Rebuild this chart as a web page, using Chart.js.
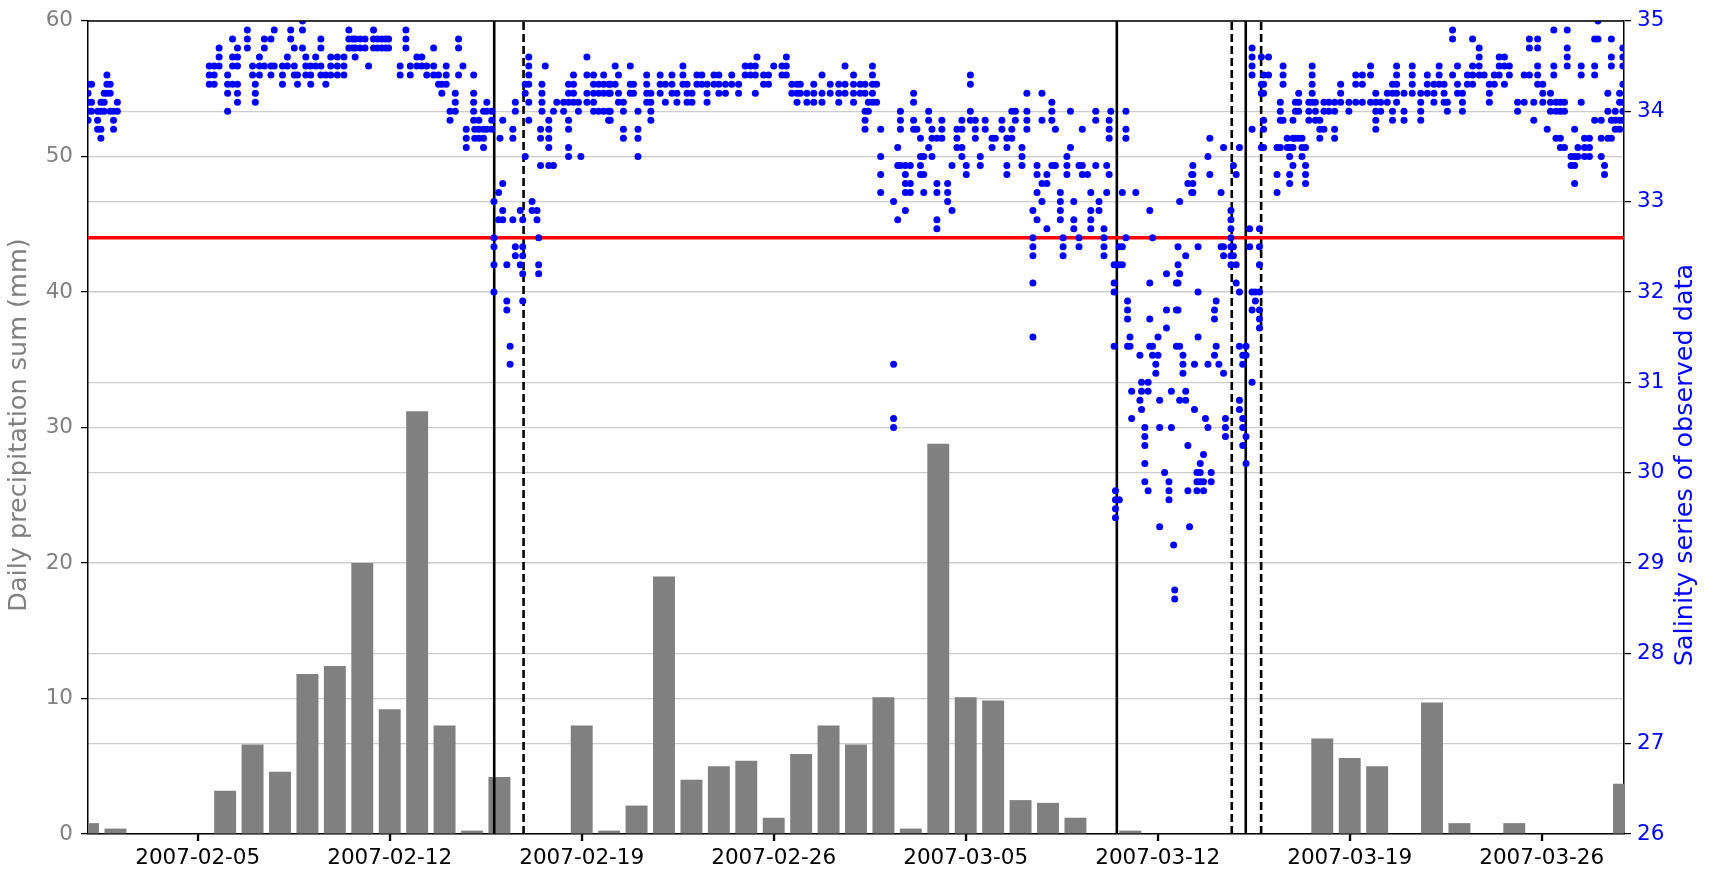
<!DOCTYPE html>
<html>
<head>
<meta charset="utf-8">
<title>Precipitation and salinity</title>
<script src="https://cdn.jsdelivr.net/npm/chart.js@4.4.1/dist/chart.umd.min.js"></script>
<style>
    html, body { margin: 0; padding: 0; background: #fff; }
    #wrap { width: 1717px; height: 869px; position: relative; }
</style>
</head>
<body>
<div id="wrap"><canvas id="salinityChart"></canvas></div>
<script>
// Time axis: days counted from 2007-02-01 00:00
// Daily precipitation sum (mm), one value per day from 2007-02-01 to 2007-03-29
const precipMm = [
    0.8, 0.4, 0, 0, 0, 3.2, 6.6, 4.6, 11.8, 12.4,      // 02-01 .. 02-10
    20.0, 9.2, 31.2, 8.0, 0.25, 4.2, 0, 0, 8.0, 0.25,  // 02-11 .. 02-20
    2.1, 19.0, 4.0, 5.0, 5.4, 1.2, 5.9, 8.0,           // 02-21 .. 02-28
    6.6, 10.1, 0.4, 28.8, 10.1, 9.85, 2.5, 2.3, 1.2, 0, // 03-01 .. 03-10
    0.25, 0, 0, 0, 0, 0, 0, 7.05, 5.6, 5.0,            // 03-11 .. 03-20
    0, 9.7, 0.8, 0, 0.8, 0, 0, 0, 3.7                  // 03-21 .. 03-29
];

const tickDays = [4, 11, 18, 25, 32, 39, 46, 53];
const tickLabels = ['2007-02-05', '2007-02-12', '2007-02-19', '2007-02-26',
                    '2007-03-05', '2007-03-12', '2007-03-19', '2007-03-26'];

const salinityThreshold = 32.6;

// event markers (days since 2007-02-01)
const eventSolid = [14.81, 37.51, 42.21];
const eventDashed = [15.88, 41.70, 42.77];

// observed salinity: [day, values seen at that time...]
const salinityCols = [
    [0.00, 34.3, 34.2, 34.1, 34.0, 33.9],
    [0.13, 34.3, 34.1, 34.0],
    [0.35, 34.0, 33.9, 33.8],
    [0.47, 34.1, 34.0, 33.8, 33.7],
    [0.59, 34.2, 34.1, 34.0],
    [0.69, 34.4, 34.3, 34.2],
    [0.81, 34.3, 34.2, 34.0],
    [0.93, 34.0, 33.9, 33.8],
    [1.07, 34.1, 34.0],
    [4.42, 34.5, 34.4, 34.3],
    [4.60, 34.5, 34.4, 34.3],
    [4.78, 34.7, 34.6, 34.5],
    [5.09, 34.4, 34.3, 34.2, 34.0],
    [5.27, 34.8, 34.6, 34.5, 34.3],
    [5.45, 34.7, 34.6, 34.5, 34.3, 34.2, 34.1],
    [5.81, 34.9, 34.8, 34.7],
    [6.00, 34.5, 34.4],
    [6.10, 34.3, 34.2, 34.1],
    [6.25, 34.6, 34.5, 34.4],
    [6.43, 34.8, 34.7, 34.5],
    [6.67, 34.8, 34.5, 34.4],
    [6.79, 34.9, 34.5],
    [7.09, 34.5, 34.4, 34.3],
    [7.27, 34.6, 34.5],
    [7.39, 34.9, 34.8],
    [7.52, 34.7, 34.5, 34.4],
    [7.64, 34.4, 34.3],
    [7.82, 35.0, 34.9, 34.7],
    [7.94, 34.6, 34.5, 34.4],
    [8.12, 34.5, 34.4, 34.3],
    [8.30, 34.6, 34.5],
    [8.49, 34.8, 34.7, 34.5, 34.4],
    [8.67, 34.4, 34.3],
    [8.85, 34.6, 34.5, 34.4],
    [9.09, 34.6, 34.5, 34.4],
    [9.33, 34.6, 34.5, 34.4],
    [9.51, 34.9, 34.8, 34.7],
    [9.64, 34.8, 34.7],
    [9.74, 34.8, 34.7, 34.6],
    [9.92, 34.8, 34.7],
    [10.10, 34.8, 34.7],
    [10.23, 34.5],
    [10.41, 34.9, 34.8, 34.7],
    [10.55, 34.8, 34.7],
    [10.71, 34.8, 34.7],
    [10.85, 34.8, 34.7],
    [10.96, 34.8, 34.7],
    [11.38, 34.5, 34.4],
    [11.59, 34.9, 34.8, 34.7],
    [11.75, 34.5, 34.4],
    [11.99, 34.6, 34.5],
    [12.17, 34.6, 34.5],
    [12.35, 34.5, 34.4],
    [12.60, 34.7, 34.5, 34.4],
    [12.78, 34.4, 34.3],
    [12.90, 34.3, 34.2],
    [13.06, 34.5, 34.4, 34.3],
    [13.20, 34.0, 33.9],
    [13.39, 34.2, 34.1, 34.0],
    [13.51, 34.8, 34.7, 34.4],
    [13.67, 34.5],
    [13.79, 33.8, 33.7, 33.6],
    [14.06, 34.4, 34.2, 34.1, 34.0, 33.9],
    [14.10, 33.8, 33.7],
    [14.25, 33.9, 33.8, 33.7],
    [14.42, 34.0, 33.8, 33.7, 33.6],
    [14.54, 34.1, 34.0, 33.8],
    [14.72, 34.0, 33.9, 33.8],
    [14.80, 33.0, 32.6, 32.5, 32.3, 32.0],
    [14.97, 33.1, 32.8],
    [15.02, 33.7],
    [15.12, 33.9, 33.2, 32.9, 32.8],
    [15.27, 32.3, 31.9, 31.8],
    [15.39, 31.4, 31.2],
    [15.49, 33.8, 33.7, 32.8],
    [15.58, 34.1, 34.0, 32.5, 32.4],
    [15.76, 32.9, 32.3],
    [15.85, 32.8, 32.5, 32.4, 32.2, 31.9],
    [15.94, 34.3, 34.2, 33.5],
    [16.07, 34.6, 34.5, 34.4, 34.3, 34.1, 33.9],
    [16.19, 33.0, 32.9],
    [16.37, 32.9, 32.8],
    [16.43, 32.6, 32.3, 32.2],
    [16.50, 33.8, 33.7, 33.4],
    [16.55, 34.3, 34.2, 34.1, 34.0],
    [16.67, 34.5],
    [16.80, 33.9, 33.8, 33.7, 33.6, 33.4],
    [16.97, 34.0, 33.4],
    [17.09, 34.1],
    [17.34, 34.1, 34.0],
    [17.52, 34.3, 34.2, 34.1, 33.9, 33.8, 33.6, 33.5],
    [17.70, 34.4, 34.3, 34.2, 34.1],
    [17.88, 34.1, 34.0],
    [17.97, 33.5],
    [18.19, 34.6, 34.4, 34.2, 34.1],
    [18.43, 34.4, 34.3, 34.2, 34.1, 34.0],
    [18.62, 34.3, 34.2, 34.0],
    [18.80, 34.4, 34.3, 34.2, 34.0],
    [18.98, 34.3, 34.2, 34.0, 33.9],
    [19.04, 34.3, 34.2, 34.0, 33.9],
    [19.22, 34.5, 34.3],
    [19.34, 34.4, 34.2, 34.1],
    [19.52, 34.1, 34.0, 33.8, 33.7],
    [19.77, 34.5, 34.3, 34.2],
    [19.89, 34.3, 34.2],
    [20.05, 34.0, 33.8, 33.7, 33.5],
    [20.37, 34.4, 34.3, 34.2, 34.1],
    [20.52, 34.2, 34.1, 34.0, 33.9],
    [20.86, 34.4, 34.3, 34.2],
    [21.05, 34.3, 34.1],
    [21.29, 34.4, 34.3, 34.2],
    [21.47, 34.2, 34.1],
    [21.69, 34.5, 34.4, 34.3],
    [21.84, 34.3, 34.2, 34.1],
    [22.02, 34.2, 34.1],
    [22.20, 34.4, 34.3],
    [22.38, 34.4, 34.3],
    [22.57, 34.3, 34.2, 34.1],
    [22.82, 34.4, 34.3],
    [23.00, 34.4, 34.3, 34.2],
    [23.24, 34.3, 34.2],
    [23.47, 34.4, 34.3],
    [23.72, 34.3, 34.2],
    [23.96, 34.5, 34.4],
    [24.15, 34.5, 34.4],
    [24.33, 34.5, 34.4, 34.2],
    [24.39, 34.6],
    [24.63, 34.4, 34.3],
    [24.81, 34.4, 34.3],
    [25.00, 34.5],
    [25.30, 34.5, 34.4],
    [25.46, 34.6, 34.5, 34.4],
    [25.66, 34.3, 34.2],
    [25.85, 34.3, 34.2, 34.1],
    [25.97, 34.3, 34.2],
    [26.21, 34.2, 34.1],
    [26.46, 34.3, 34.2, 34.1],
    [26.76, 34.4, 34.2, 34.1],
    [27.06, 34.3, 34.2],
    [27.37, 34.3, 34.2, 34.1],
    [27.60, 34.5, 34.3, 34.2],
    [27.91, 34.4, 34.3, 34.2, 34.1],
    [28.15, 34.3, 34.2],
    [28.33, 34.3, 34.2, 34.0, 33.9, 33.8],
    [28.45, 34.1, 34.0],
    [28.60, 34.5, 34.4, 34.3, 34.2, 34.1],
    [28.75, 34.3, 34.1],
    [28.90, 33.8, 33.5, 33.3, 33.1],
    [29.37, 33.0, 31.2, 30.6, 30.5],
    [29.52, 33.6, 33.4, 32.8],
    [29.62, 34.0, 33.9, 33.8, 33.4],
    [29.80, 33.4, 33.3, 33.2, 33.1, 32.9],
    [29.98, 33.4, 33.2, 33.1],
    [30.10, 34.2, 34.1, 33.9, 33.8],
    [30.22, 33.8],
    [30.35, 33.7, 33.5, 33.4, 33.3],
    [30.47, 33.5, 33.3, 33.1],
    [30.65, 34.0, 33.9, 33.6],
    [30.77, 33.8, 33.7, 33.5],
    [30.95, 33.7, 33.2, 33.1, 32.8, 32.7],
    [31.13, 33.9, 33.8, 33.7],
    [31.34, 33.2, 33.1, 33.0],
    [31.50, 33.4, 32.9],
    [31.68, 33.8, 33.7, 33.6],
    [31.86, 33.9, 33.8, 33.6, 33.5],
    [32.02, 33.4, 33.3],
    [32.17, 34.4, 34.3, 34.0, 33.9],
    [32.35, 33.9, 33.8, 33.7],
    [32.53, 33.5, 33.4],
    [32.71, 33.9, 33.8],
    [32.96, 33.7, 33.6],
    [33.08, 33.7],
    [33.32, 33.9, 33.8],
    [33.50, 33.7, 33.6, 33.4, 33.3],
    [33.68, 34.0, 33.8, 33.7],
    [33.81, 34.0, 33.9],
    [34.05, 33.6, 33.5, 33.4],
    [34.23, 34.2, 34.0, 33.9, 33.8],
    [34.45, 32.9, 32.6, 32.5, 32.4, 32.1, 31.5],
    [34.60, 33.4, 33.3, 33.1, 32.8],
    [34.78, 34.2, 33.9, 33.2, 33.0],
    [34.96, 33.3, 33.2, 32.7],
    [35.14, 34.1, 34.0, 33.9, 33.4],
    [35.27, 33.8, 33.4],
    [35.45, 33.1, 33.0, 32.9, 32.8],
    [35.55, 32.6, 32.5, 32.4],
    [35.69, 33.5, 33.4, 33.3],
    [35.82, 34.0, 33.6],
    [35.94, 33.0, 32.8, 32.7],
    [36.13, 33.4, 32.6, 32.5],
    [36.25, 33.8, 33.4, 33.3],
    [36.44, 33.3],
    [36.56, 33.1, 32.9, 32.8, 32.7],
    [36.74, 34.0, 33.9, 33.4],
    [36.86, 33.0, 32.9],
    [37.04, 32.7, 32.6, 32.5, 32.4],
    [37.14, 33.4, 33.1],
    [37.23, 33.9, 33.8, 33.7, 33.3],
    [37.29, 34.0],
    [37.41, 32.3, 32.1, 32.0, 31.4],
    [37.46, 29.8, 29.7, 29.6, 29.5],
    [37.60, 32.5, 32.3, 29.7],
    [37.71, 33.1, 32.5, 32.3],
    [37.84, 34.0, 33.8, 33.7, 32.6],
    [37.90, 31.9, 31.8, 31.7, 31.4],
    [37.99, 31.5, 31.4],
    [38.05, 30.9, 30.6],
    [38.20, 33.1],
    [38.35, 31.3, 30.8],
    [38.41, 31.0, 30.9, 30.7],
    [38.53, 30.5, 30.4, 30.3, 30.1, 29.9],
    [38.65, 31.0, 30.9, 29.8],
    [38.71, 32.9, 32.1, 31.7, 31.4],
    [38.81, 32.6, 31.4, 31.3],
    [38.93, 31.2, 31.1],
    [39.01, 31.5, 31.3],
    [39.07, 30.8, 30.5, 29.4],
    [39.25, 30.0],
    [39.32, 32.2, 31.8, 31.6],
    [39.41, 29.9, 29.8, 29.7],
    [39.50, 30.9, 30.5],
    [39.58, 29.2],
    [39.62, 28.7, 28.6],
    [39.68, 32.1, 31.8, 31.4],
    [39.74, 32.5, 32.3, 32.1, 31.8],
    [39.80, 33.0, 32.2, 31.4, 30.8],
    [39.92, 31.3, 31.2, 31.1],
    [40.02, 32.4, 30.9, 30.8],
    [40.10, 33.2, 30.3, 29.8],
    [40.16, 29.4],
    [40.24, 33.3, 33.1],
    [40.28, 33.4, 33.3, 33.2, 33.1],
    [40.34, 31.2, 30.7],
    [40.43, 30.0, 29.9, 29.8],
    [40.47, 32.5, 32.0, 31.5],
    [40.55, 30.1, 30.0, 29.9],
    [40.67, 30.2, 29.9, 29.8],
    [40.74, 30.6],
    [40.83, 33.5, 31.2, 30.5],
    [40.90, 33.7, 33.3],
    [40.95, 30.0, 29.9],
    [41.07, 31.8, 31.7, 31.3],
    [41.13, 31.9, 31.4],
    [41.23, 31.2],
    [41.31, 33.1, 32.5],
    [41.40, 33.6, 32.5, 32.4, 31.1],
    [41.47, 30.6, 30.5, 30.4],
    [41.67, 32.9, 32.8, 32.7, 32.6, 32.5, 32.4, 32.3],
    [41.76, 33.4, 32.5, 32.4],
    [41.86, 33.3, 32.3, 32.1],
    [41.98, 33.6, 32.0, 31.4, 30.8, 30.7],
    [42.10, 31.3, 31.2, 30.6, 30.5, 30.3],
    [42.22, 31.4, 31.3, 30.4, 30.1],
    [42.35, 32.7, 32.5],
    [42.44, 34.7, 34.6, 34.5, 34.4, 33.8, 32.0, 31.8, 31.0],
    [42.56, 32.0, 31.9],
    [42.71, 32.7, 32.5, 32.3, 32.0, 31.8, 31.7, 31.6],
    [42.78, 34.6, 34.3, 34.2, 33.6],
    [42.86, 34.4, 34.3, 34.2, 33.9, 33.8, 33.6],
    [43.04, 34.6, 34.4],
    [43.35, 33.6, 33.3, 33.1],
    [43.47, 34.1, 34.0, 33.9, 33.6],
    [43.57, 34.5, 34.4, 34.3, 33.9],
    [43.72, 33.7, 33.6],
    [43.81, 33.6, 33.5, 33.3, 33.2],
    [43.93, 33.9, 33.7, 33.6, 33.4],
    [44.02, 34.1, 34.0, 33.7],
    [44.14, 34.2, 34.1, 34.0, 33.7],
    [44.26, 33.7, 33.6, 33.5],
    [44.39, 33.6, 33.4, 33.3, 33.2],
    [44.51, 34.1, 34.0, 33.9],
    [44.63, 34.5, 34.4, 34.3, 34.2, 34.1],
    [44.75, 34.1, 34.0, 33.9],
    [44.91, 33.9, 33.8, 33.7],
    [45.06, 34.1, 34.0, 33.8],
    [45.24, 34.1, 34.0],
    [45.45, 34.1, 34.0, 33.8, 33.7],
    [45.67, 34.3, 34.2, 34.1],
    [45.97, 34.1, 34.0],
    [46.22, 34.4, 34.3, 34.1],
    [46.46, 34.4, 34.3, 34.1],
    [46.76, 34.5, 34.4, 34.1],
    [46.95, 34.2, 34.1, 34.0, 33.9, 33.8],
    [47.13, 34.1, 34.0],
    [47.37, 34.2, 34.1],
    [47.56, 34.3, 34.2, 34.0, 33.9],
    [47.71, 34.5, 34.4, 34.3, 34.2, 34.1],
    [47.98, 34.2, 34.0, 33.9],
    [48.28, 34.5, 34.4, 34.3, 34.2],
    [48.59, 34.2, 34.1, 34.0, 33.9],
    [48.83, 34.4, 34.3, 34.2],
    [49.07, 34.3, 34.2, 34.1],
    [49.26, 34.5, 34.4, 34.3],
    [49.44, 34.3, 34.2, 34.1],
    [49.56, 34.1, 34.0],
    [49.75, 34.9, 34.8, 34.4],
    [49.93, 34.5, 34.3, 34.2],
    [50.11, 34.2, 34.1, 34.0],
    [50.29, 34.4, 34.3],
    [50.48, 34.8, 34.5, 34.4, 34.3],
    [50.72, 34.7, 34.6, 34.5, 34.4],
    [50.90, 34.4],
    [51.09, 34.3, 34.2, 34.1],
    [51.27, 34.4, 34.3],
    [51.45, 34.6, 34.5, 34.4],
    [51.64, 34.6, 34.5, 34.3],
    [51.82, 34.5, 34.4],
    [52.12, 34.1, 34.0],
    [52.36, 34.4, 34.1],
    [52.55, 34.8, 34.7, 34.4],
    [52.71, 34.1, 33.9],
    [52.85, 34.8, 34.7, 34.5, 34.4, 34.3],
    [53.04, 34.3, 34.2, 34.1],
    [53.20, 33.8],
    [53.32, 34.2, 34.1, 34.0],
    [53.44, 34.9, 34.5, 34.4],
    [53.52, 34.1, 34.0, 33.7],
    [53.68, 34.1, 34.0, 33.7, 33.6],
    [53.83, 34.1, 34.0, 33.6],
    [53.93, 34.9, 34.7, 34.6, 34.5],
    [54.07, 33.5, 33.4],
    [54.20, 33.8, 33.5, 33.4, 33.2],
    [54.32, 33.6, 33.5],
    [54.44, 34.5, 34.4, 34.1],
    [54.56, 33.7, 33.6, 33.5],
    [54.74, 33.7, 33.6, 33.5],
    [54.93, 34.8, 34.5, 34.4, 33.9],
    [55.05, 35.0, 34.8],
    [55.17, 33.9, 33.7, 33.5],
    [55.29, 33.4, 33.3],
    [55.41, 34.2, 34.0, 33.7],
    [55.54, 34.8, 34.6, 34.5, 33.9, 33.7],
    [55.68, 34.0, 33.9, 33.8],
    [55.84, 34.2, 34.1, 33.9, 33.8],
    [55.96, 34.7, 34.6, 34.5, 34.3, 34.1, 34.0, 33.9]
];

// build chart data
const barData = precipMm.map((v, i) => ({ x: i, y: v }));
const salinityPoints = [];
salinityCols.forEach(col => {
    for (let k = 1; k < col.length; k++) {
        salinityPoints.push({ x: col[0], y: col[k] });
    }
});
const lastDay = precipMm.length - 1;

const eventSets = [];
eventSolid.forEach(d => eventSets.push({
    type: 'line', data: [{ x: d, y: 0 }, { x: d, y: 60 }], yAxisID: 'y',
    borderColor: '#000', borderWidth: 2.6, pointRadius: 0, order: 3
}));
eventDashed.forEach(d => eventSets.push({
    type: 'line', data: [{ x: d, y: 0 }, { x: d, y: 60 }], yAxisID: 'y',
    borderColor: '#000', borderWidth: 2.6, borderDash: [8, 4], pointRadius: 0, order: 3
}));

const tickFont = { family: 'DejaVu Sans', size: 21.5 };
const titleFont = '25.5px "DejaVu Sans"';

// top spine, x tick marks and both axis titles (right one reads bottom-to-top like the left)
const framePlugin = {
    id: 'framePlugin',
    afterDraw: (chart) => {
        const ctx = chart.ctx;
        const area = chart.chartArea;
        const xScale = chart.scales.x;
        ctx.save();
        ctx.strokeStyle = '#000';
        ctx.lineWidth = 1.5;
        ctx.beginPath();
        ctx.moveTo(area.left, area.top);
        ctx.lineTo(area.right, area.top);
        ctx.stroke();

        ctx.lineWidth = 1.4;
        tickDays.forEach(d => {
            const px = Math.round(xScale.getPixelForValue(d)) + 0.5;
            ctx.beginPath();
            ctx.moveTo(px, area.bottom);
            ctx.lineTo(px, area.bottom + 7);
            ctx.stroke();
        });

        ctx.font = titleFont;
        ctx.textAlign = 'center';
        ctx.textBaseline = 'middle';

        ctx.save();
        ctx.translate(19.5, 425);
        ctx.rotate(-Math.PI / 2);
        ctx.fillStyle = '#808080';
        ctx.fillText('Daily precipitation sum (mm)', 0, 0);
        ctx.restore();

        ctx.save();
        ctx.translate(1685, 465);
        ctx.rotate(-Math.PI / 2);
        ctx.fillStyle = '#0000ff';
        ctx.fillText('Salinity series of observed data', 0, 0);
        ctx.restore();

        ctx.restore();
    }
};

var ctx = document.getElementById('salinityChart').getContext('2d');
var salinityChart = new Chart(ctx, {
    type: 'scatter',
    data: {
        datasets: [
            {
                type: 'scatter',
                data: salinityPoints,
                yAxisID: 'y2',
                backgroundColor: '#0000ff',
                borderWidth: 0,
                pointRadius: 3.5,
                clip: 0,
                order: 1
            },
            {
                type: 'line',
                data: [{ x: 0, y: salinityThreshold }, { x: lastDay, y: salinityThreshold }],
                yAxisID: 'y2',
                borderColor: '#ff0000',
                borderWidth: 3.5,
                pointRadius: 0,
                order: 2
            },
            ...eventSets,
            {
                type: 'bar',
                data: barData,
                yAxisID: 'y',
                backgroundColor: '#808080',
                barPercentage: 0.8,
                categoryPercentage: 1.0,
                clip: 0,
                order: 4
            }
        ]
    },
    options: {
        responsive: true,
        maintainAspectRatio: false,
        animation: false,
        layout: { padding: { top: 20, left: 0, right: 0, bottom: 0 } },
        scales: {
            x: {
                type: 'linear',
                min: 0,
                max: lastDay,
                offset: false,
                afterBuildTicks: (axis) => { axis.ticks = tickDays.map(v => ({ value: v })); },
                afterFit: (axis) => { axis.height = 35; },
                ticks: {
                    autoSkip: false,
                    maxRotation: 0,
                    color: '#000',
                    font: tickFont,
                    padding: 5,
                    callback: (v, i) => tickLabels[i]
                },
                grid: { offset: false, drawOnChartArea: false, drawTicks: true, tickLength: 7, tickColor: '#000', tickWidth: 1.3 },
                border: { color: '#000', width: 1.5 }
            },
            y: {
                position: 'left',
                min: 0,
                max: 60,
                afterFit: (axis) => { axis.width = 88; },
                ticks: { stepSize: 10, color: '#808080', font: tickFont, padding: 8 },
                grid: { color: '#cccccc', lineWidth: 1.2, tickLength: 7, tickColor: '#000', tickWidth: 1.3 },
                border: { color: '#000', width: 1.5 }
            },
            y2: {
                position: 'right',
                min: 26,
                max: 35,
                afterFit: (axis) => { axis.width = 93; },
                ticks: { stepSize: 1, color: '#0000ff', font: tickFont, padding: 6 },
                grid: { color: '#cccccc', lineWidth: 1.2, tickLength: 7, tickColor: '#000', tickWidth: 1.3 },
                border: { color: '#000', width: 1.5 }
            }
        },
        plugins: {
            legend: { display: false },
            tooltip: { enabled: false }
        }
    },
    plugins: [framePlugin]
});
</script>
</body>
</html>
